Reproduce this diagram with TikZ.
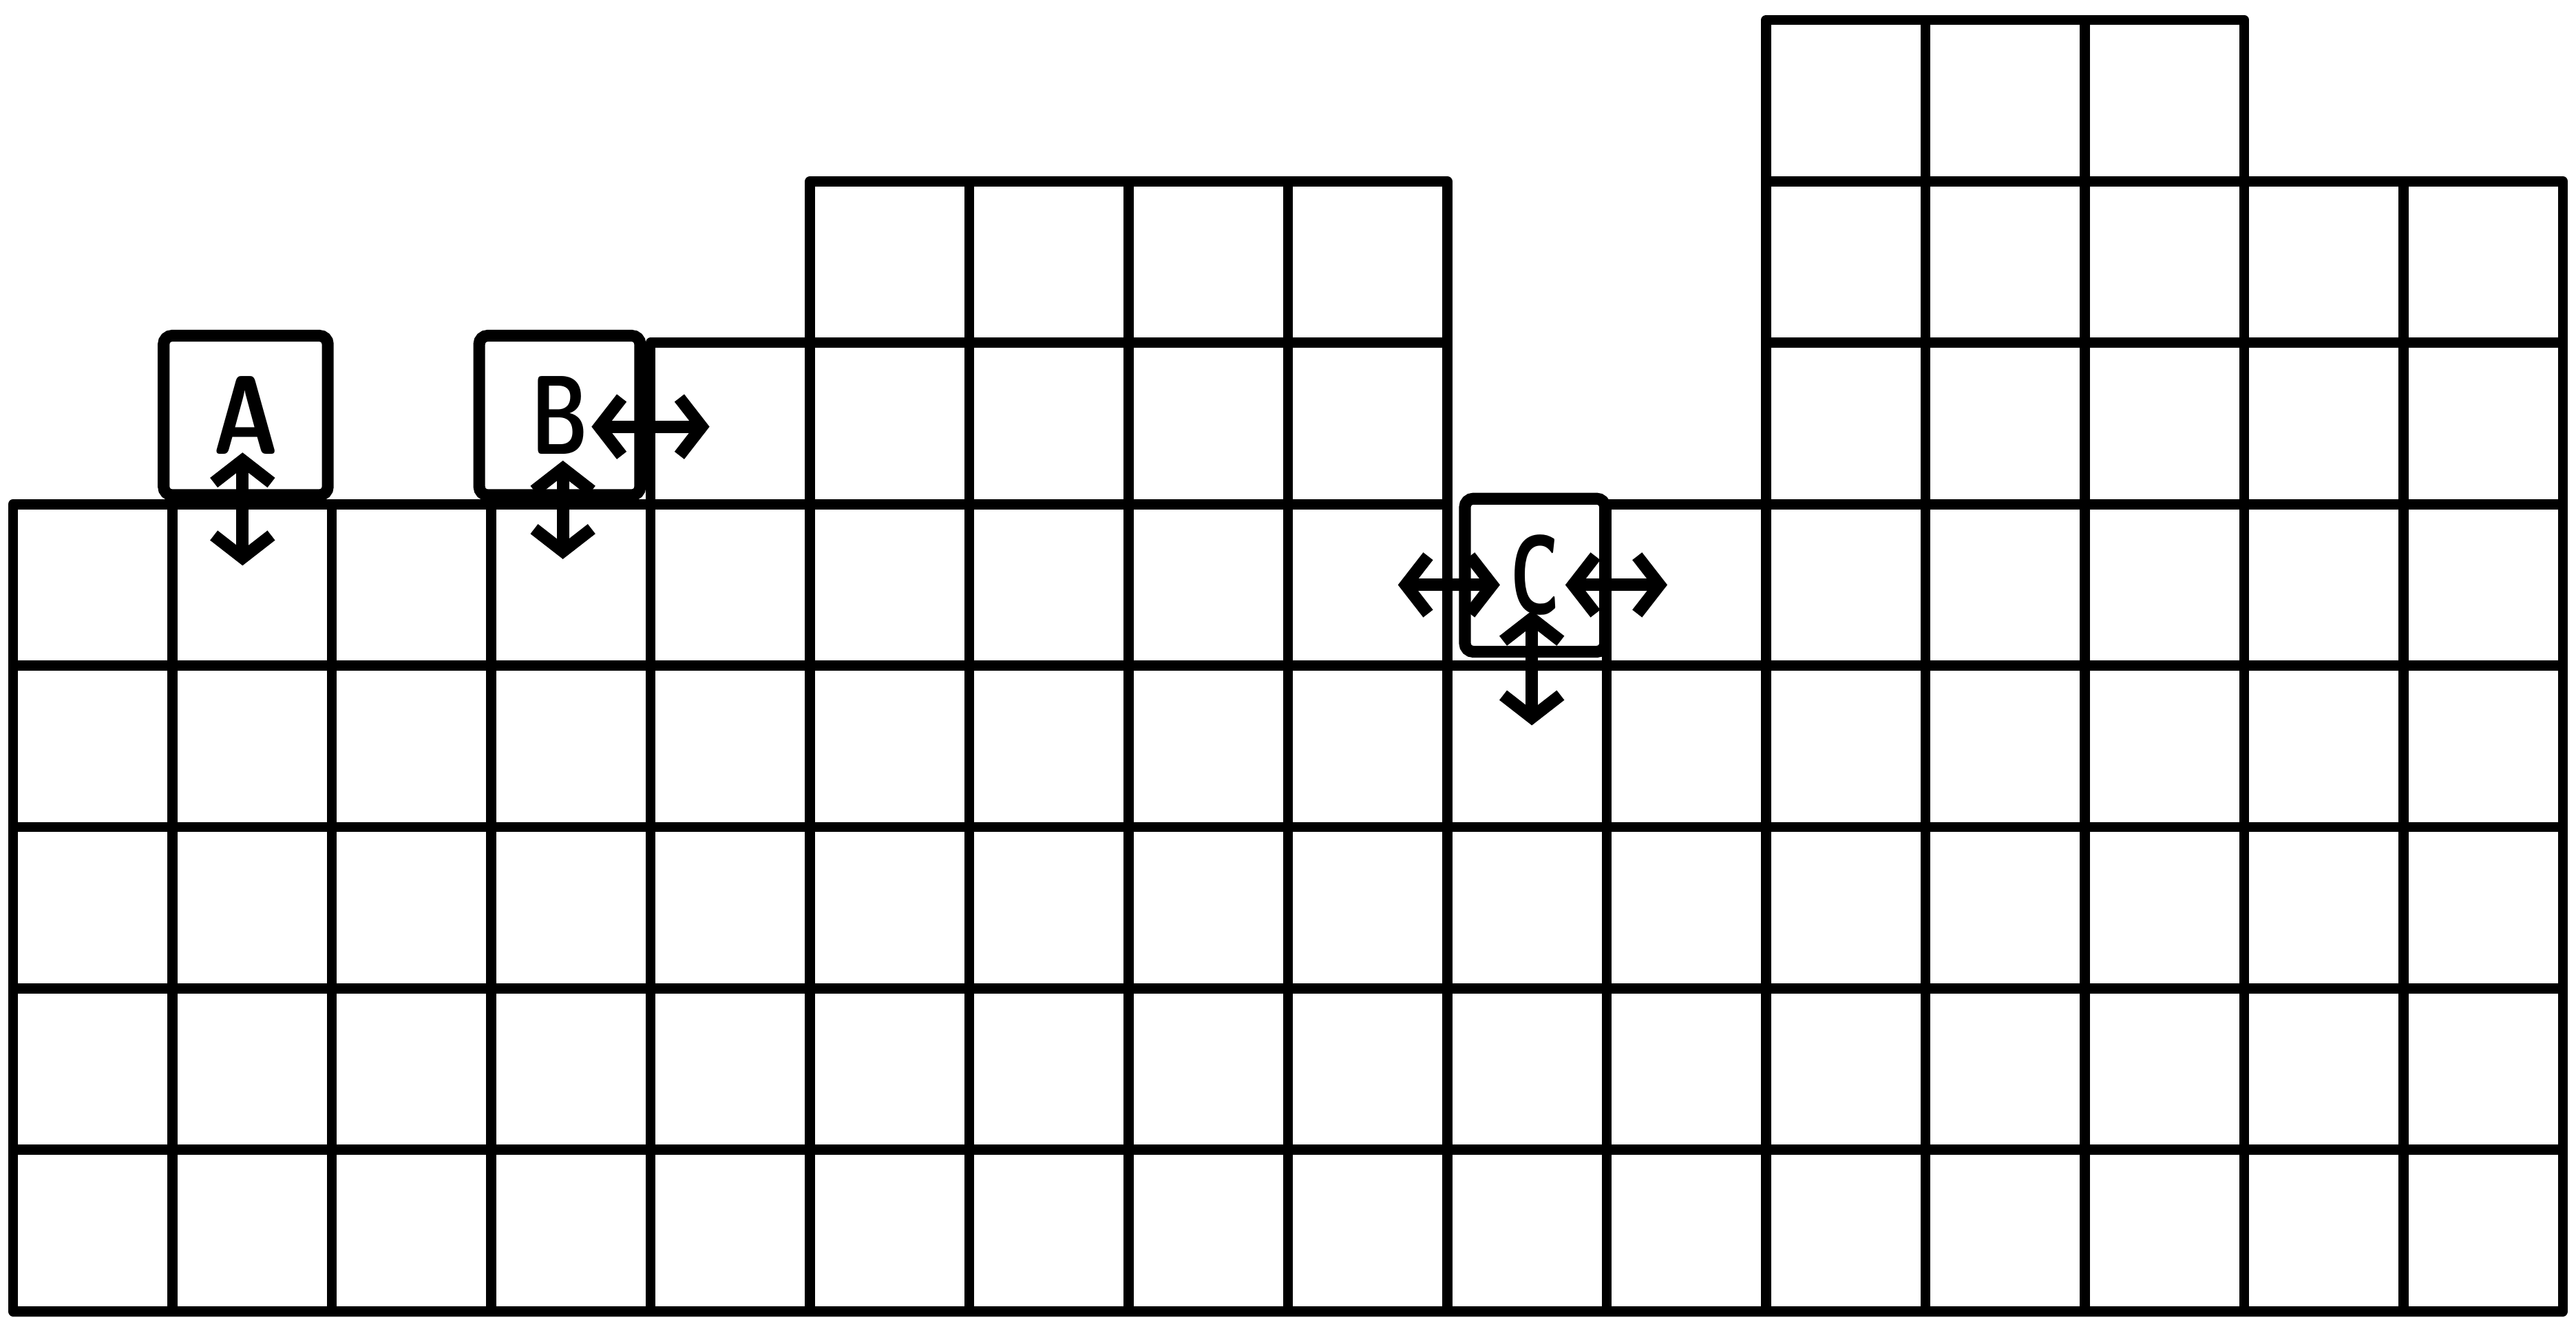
\documentclass[tikz,border=0pt]{standalone}
\usepackage{graphicx}
\usetikzlibrary{arrows.meta}

\begin{document}
\begin{tikzpicture}[x=1cm, y=1.0125cm,
  cell/.style={line width=1.8pt, line join=round},
  block/.style={draw, line width=2.1pt, rounded corners=1.5pt, inner sep=0pt,
    font=\sffamily\bfseries\fontsize{20}{24}\selectfont},
  move/.style={{Straight Barb[length=1.4mm,width=3.6mm]}-{Straight Barb[length=1.4mm,width=3.6mm]},
    line width=2.2pt, line cap=round}]
  \useasboundingbox (-0.082,-0.038) rectangle (16.082,8.124);
  \foreach \c/\h in {0/5,1/5,2/5,3/5,4/6,5/7,6/7,7/7,8/7,9/4,10/5,11/8,12/8,13/8,14/7,15/7}
    \foreach \r in {1,...,\h}
      \draw[cell] (\c,\r-1) rectangle ++(1,1);
  \node[block, minimum width=1.03cm, minimum height=1.0cm] (A) at (1.46,5.55) {\scalebox{0.8}[1]{A}};
  \node[block, minimum width=1.01cm, minimum height=1.0cm] (B) at (3.43,5.55) {\scalebox{0.7}[1]{B}};
  \node[block, minimum width=0.88cm, minimum height=0.96cm] (C) at (9.55,4.56) {\scalebox{0.62}[1]{C}};
  \coordinate (A-top) at (1.44,5.32);
  \coordinate (A-bot) at (1.44,4.62);
  \coordinate (B-top) at (3.45,5.27);
  \coordinate (B-bot) at (3.45,4.66);
  \coordinate (B-in) at (3.63,5.48);
  \coordinate (B-out) at (4.37,5.48);
  \coordinate (C-lout) at (8.69,4.50);
  \coordinate (C-lin) at (9.33,4.50);
  \coordinate (C-rin) at (9.74,4.50);
  \coordinate (C-rout) at (10.38,4.50);
  \coordinate (C-top) at (9.53,4.34);
  \coordinate (C-bot) at (9.53,3.63);
  \draw[move] (A-top) -- (A-bot);
  \draw[move] (B-top) -- (B-bot);
  \draw[move] (B-in) -- (B-out);
  \draw[move] (C-lout) -- (C-lin);
  \draw[move] (C-rin) -- (C-rout);
  \draw[move] (C-top) -- (C-bot);
\end{tikzpicture}
\end{document}
